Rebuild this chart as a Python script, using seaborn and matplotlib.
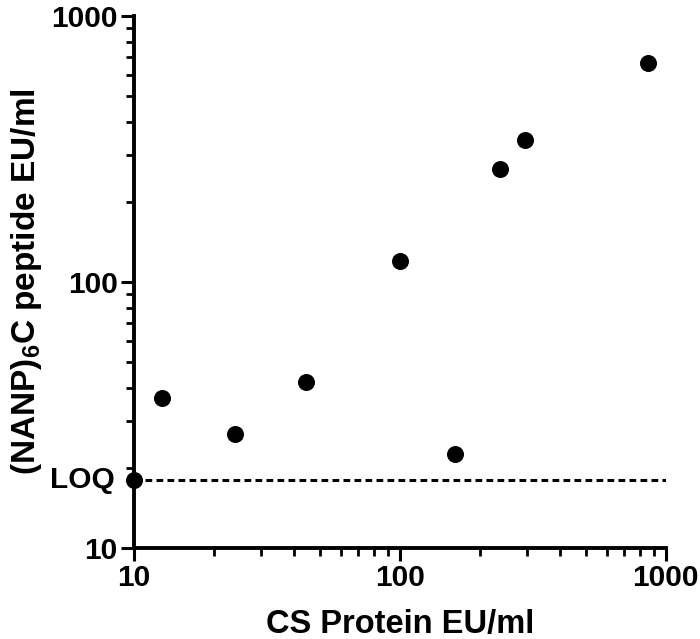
import numpy as np
import pandas as pd
import matplotlib
matplotlib.use("Agg")
import matplotlib.pyplot as plt
import matplotlib.transforms as mtransforms
from matplotlib.ticker import LogLocator, FixedLocator, NullFormatter
import seaborn as sns

# values
cs_protein = [10, 12.8, 24.0, 44.6, 100.6, 162, 238, 296, 858]
nanp_peptide = [18.0, 36.7, 26.8, 42.2, 120, 22.6, 265, 341, 667]
loq = 18.0
major_ticks = [10, 100, 1000]
tick_labels = ["10", "100", "1000"]

sns.set_style("ticks")
plt.rcParams["font.family"] = ["Liberation Sans", "DejaVu Sans"]
plt.rcParams["font.weight"] = "bold"
plt.rcParams["mathtext.fontset"] = "custom"
plt.rcParams["mathtext.rm"] = "Liberation Sans:bold"
plt.rcParams["mathtext.bf"] = "Liberation Sans:bold"
for key in ["text.color", "axes.labelcolor", "xtick.color", "ytick.color",
            "axes.edgecolor"]:
    plt.rcParams[key] = "black"

df = pd.DataFrame({"cs": cs_protein, "nanp": nanp_peptide})

fig = plt.figure(figsize=(7.0, 6.39), dpi=100)
ax = fig.add_axes([0.191, 0.1424, 0.76, 0.8326])

sns.scatterplot(data=df, x="cs", y="nanp", ax=ax, s=150, color="black",
                edgecolor="black", linewidth=0, clip_on=False, zorder=5)
ax.axhline(loq, color="black", linestyle=(0, (2.2, 1.4)), linewidth=2.2, zorder=3)

ax.set_xscale("log")
ax.set_yscale("log")
ax.set_xlim(10, 1000)
ax.set_ylim(10, 1000)

for axis in (ax.xaxis, ax.yaxis):
    axis.set_major_locator(FixedLocator(major_ticks))
    axis.set_minor_locator(LogLocator(base=10, subs=np.arange(2, 10)))
    axis.set_minor_formatter(NullFormatter())
ax.set_xticklabels(tick_labels)
ax.set_yticklabels(tick_labels)

ax.tick_params(which="major", length=9.5, width=2.2, labelsize=21.5, pad=2)
ax.tick_params(which="minor", length=6, width=2.0)

# LOQ marker label on the y axis
trans = mtransforms.blended_transform_factory(ax.transAxes, ax.transData)
ax.text(-0.035, loq, "LOQ", transform=trans, ha="right", va="center",
        fontsize=21.5, fontweight="bold")

ax.set_xlabel("CS Protein EU/ml", fontsize=23.5, fontweight="bold", labelpad=12)
ax.set_ylabel(r"(NANP)$_{6}$C peptide EU/ml", fontsize=24, fontweight="bold",
              labelpad=5)

for side in ("left", "bottom"):
    ax.spines[side].set_linewidth(2.8)
sns.despine(ax=ax)

fig.savefig("out.png", dpi=100)
